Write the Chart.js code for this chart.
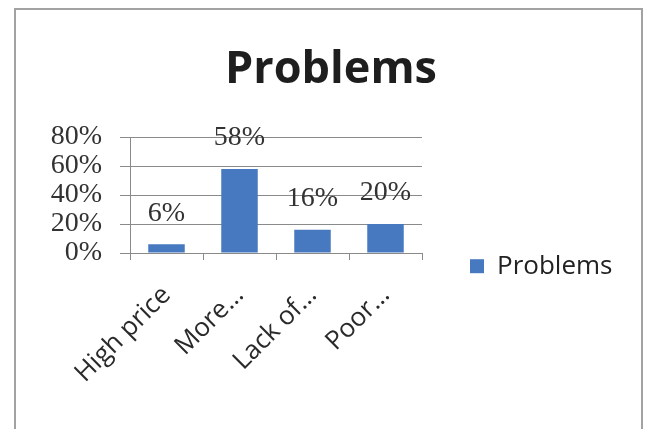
<!DOCTYPE html>
<html lang="en">
<head>
  <meta charset="UTF-8" />
  <title>Problems</title>
  <script src="https://cdn.jsdelivr.net/npm/chart.js"></script>
  <style>
    body {
      margin: 0;
      background: #fff;
      width: 645px;
      height: 429px;
      overflow: hidden;
      position: relative;
    }
    .frame {
      position: absolute;
      left: 14px;
      top: 8px;
      width: 625px;
      height: 440px;
      border: 2px solid #a2a2a2;
      border-bottom: none;
      background: #fff;
    }
    .chart-box {
      position: absolute;
      left: 0;
      top: 0;
      width: 645px;
      height: 429px;
    }
  </style>
</head>
<body>
<div class="frame"></div>
<div class="chart-box"><canvas id="problemsChart" width="645" height="429"></canvas></div>
<script>
const categories = ['High price', 'More…', 'Lack of…', 'Poor…'];
const shares = [6, 58, 16, 20];      // percent of answers
const axisMax = 80;
const axisStep = 20;

const barBlue = '#4779c0';
const lineGray = '#8a8a8a';
const serif = "'Liberation Serif', 'Times New Roman', serif";
const sans = "'Open Sans', sans-serif";

// percentage printed above every bar
const valueLabels = {
  id: 'valueLabels',
  afterDatasetsDraw(chart) {
    const ctx = chart.ctx;
    const meta = chart.getDatasetMeta(0);
    ctx.save();
    ctx.font = '28px ' + serif;
    ctx.fillStyle = '#333';
    ctx.textAlign = 'center';
    ctx.textBaseline = 'middle';
    meta.data.forEach((bar, i) => {
      ctx.fillText(shares[i] + '%', bar.x, bar.y - 31);
    });
    ctx.restore();
  }
};

const chart = new Chart(document.getElementById('problemsChart'), {
  type: 'bar',
  data: {
    labels: categories,
    datasets: [{
      label: 'Problems',
      data: shares,
      backgroundColor: barBlue,
      categoryPercentage: 1,
      barPercentage: 0.5
    }]
  },
  options: {
    responsive: false,
    animation: false,
    layout: { padding: { left: 50, right: 33, top: 0, bottom: 0 } },
    plugins: {
      title: {
        display: true,
        text: 'Problems',
        color: '#1e1e1e',
        font: { family: sans, size: 45, weight: 'bold', lineHeight: 1.2 },
        padding: { top: 43, bottom: 40 }
      },
      legend: {
        position: 'right',
        maxWidth: 190,
        // empty title only pushes the single entry down beside the axis labels
        title: { display: true, text: '', padding: { top: 89, bottom: 0 } },
        labels: {
          color: '#222',
          font: { family: sans, size: 26 },
          boxWidth: 14,
          boxHeight: 14,
          padding: 48
        }
      },
      tooltip: { enabled: false }
    },
    scales: {
      x: {
        grid: { display: true, drawOnChartArea: false, tickLength: 7, color: lineGray },
        border: { color: lineGray },
        ticks: {
          color: '#2a2a2a',
          font: { family: sans, size: 26 },
          minRotation: 45,
          maxRotation: 45,
          autoSkip: false,
          padding: 20
        },
        afterFit(scale) { scale.height = 176; }
      },
      y: {
        min: 0,
        max: axisMax,
        grid: { color: lineGray, tickLength: 10 },
        border: { color: lineGray },
        ticks: {
          stepSize: axisStep,
          autoSkip: false,
          color: '#333',
          font: { family: serif, size: 28 },
          padding: 18,
          callback: v => v + '%'
        },
        afterFit(scale) { scale.width = 80; }
      }
    }
  },
  plugins: [valueLabels]
});
</script>
</body>
</html>
